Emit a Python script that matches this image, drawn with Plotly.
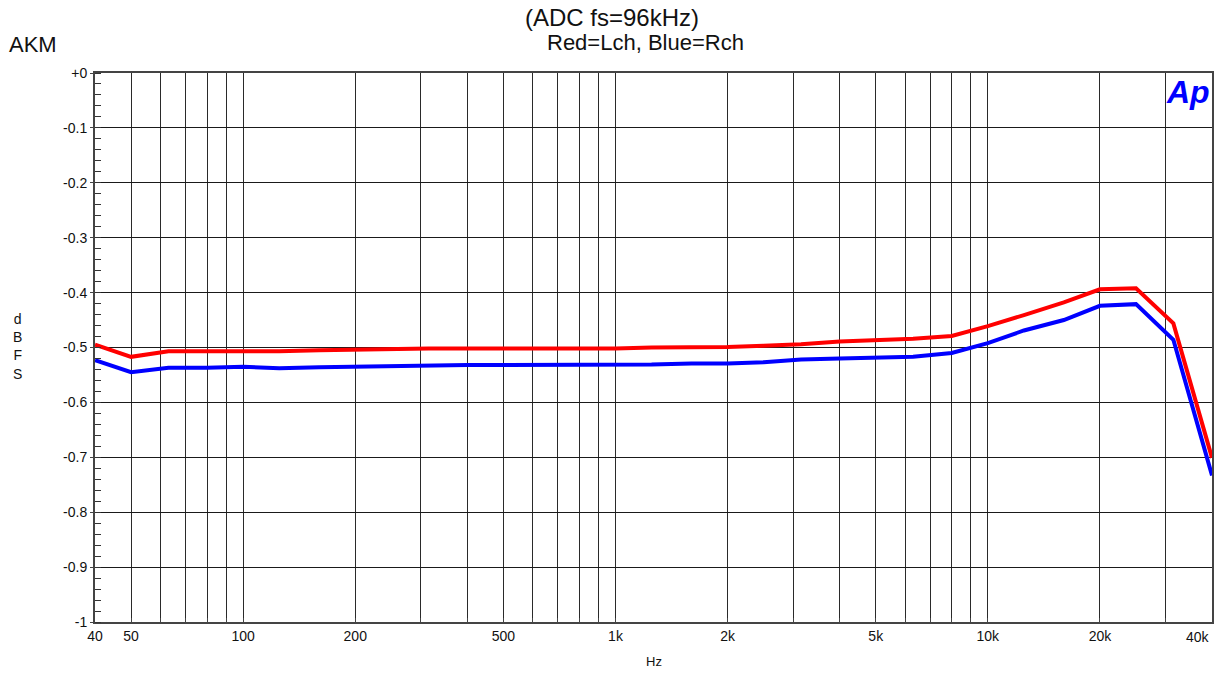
import plotly.graph_objects as go

freq_hz = [40, 50, 63, 80, 100, 125, 160, 200, 250, 315, 400, 500, 630, 800,
           1000, 1250, 1600, 2000, 2500, 3150, 4000, 5000, 6300, 8000,
           10000, 12500, 16000, 20000, 25000, 31500, 40000]

lch_dbfs = [-0.495, -0.517, -0.507, -0.507, -0.507, -0.507, -0.505, -0.504, -0.502,
            -0.502, -0.502, -0.502, -0.502, -0.502, -0.502, -0.500, -0.500, -0.499,
            -0.497, -0.494, -0.489, -0.487, -0.484, -0.479, -0.461, -0.441, -0.418,
            -0.394, -0.392, -0.456, -0.701]

rch_dbfs = [-0.523, -0.545, -0.537, -0.537, -0.535, -0.538, -0.536, -0.535, -0.533,
            -0.533, -0.532, -0.532, -0.532, -0.531, -0.531, -0.531, -0.529, -0.529,
            -0.527, -0.522, -0.520, -0.518, -0.517, -0.510, -0.492, -0.469, -0.450,
            -0.424, -0.421, -0.486, -0.733]

x_tick_vals = [40, 50, 100, 200, 500, 1000, 2000, 5000, 10000, 20000, 40000]
x_tick_text = ["40", "50", "100", "200", "500", "1k", "2k", "5k", "10k", "20k", "40k"]
x_grid_vals = [m * d for d in (10, 100, 1000, 10000) for m in range(1, 10)
               if 40 < m * d < 40000]

y_tick_vals = [0, -0.1, -0.2, -0.3, -0.4, -0.5, -0.6, -0.7, -0.8, -0.9, -1]
y_tick_text = ["+0", "-0.1", "-0.2", "-0.3", "-0.4", "-0.5", "-0.6", "-0.7",
               "-0.8", "-0.9", "-1"]

FONT = "Liberation Sans, Arial, sans-serif"
W, H = 1225, 676
# plot area in page pixels: x 95..1212, y 73..622
L, T = 95, 73
R, B = W - 1212, H - 622
PW, PH = W - L - R, H - T - B


def px(x):
    return (x - L) / PW


def py(y):
    return (H - B - y) / PH


# the last x label sits left-aligned against the right frame, as in the original
shown_tick_text = x_tick_text[:-1] + [""]

fig = go.Figure()
fig.add_trace(go.Scatter(x=freq_hz, y=lch_dbfs, mode="lines",
                         line=dict(color="#ff0000", width=4), name="Lch"))
fig.add_trace(go.Scatter(x=freq_hz, y=rch_dbfs, mode="lines",
                         line=dict(color="#0000ff", width=4), name="Rch"))

fig.update_xaxes(
    type="log", range=[1.60206, 4.60206], automargin=False,
    tickmode="array", tickvals=x_tick_vals, ticktext=shown_tick_text,
    showgrid=True, gridcolor="#2a2a2a", gridwidth=1,
    ticks="", tickfont=dict(size=14, color="#111", family=FONT),
    showline=True, linecolor="#444", linewidth=2, mirror=True,
    zeroline=False,
    minor=dict(tickmode="array", tickvals=x_grid_vals, showgrid=True,
               gridcolor="#2a2a2a", gridwidth=1, ticks="inside", ticklen=4,
               tickcolor="#444"),
)
fig.update_yaxes(
    range=[-1, 0], automargin=False,
    tickmode="array", tickvals=y_tick_vals, ticktext=y_tick_text,
    showgrid=True, gridcolor="#1a1a1a", gridwidth=1,
    ticks="outside", ticklen=3, tickcolor="#444",
    tickfont=dict(size=14, color="#111", family=FONT),
    showline=True, linecolor="#444", linewidth=2, mirror=True,
    zeroline=False,
    minor=dict(dtick=0.02, tick0=0, ticks="inside", ticklen=6, tickcolor="#333",
               showgrid=False),
)

fig.update_layout(
    width=W, height=H,
    margin=dict(l=L, r=R, t=T, b=B, pad=0),
    paper_bgcolor="white", plot_bgcolor="white",
    showlegend=False,
    font=dict(family=FONT, color="#111"),
    annotations=[
        dict(text="(ADC fs=96kHz)", xref="paper", yref="paper", x=px(612), y=py(18),
             xanchor="center", yanchor="middle", showarrow=False,
             font=dict(size=24, color="#111", family=FONT)),
        dict(text="Red=Lch, Blue=Rch", xref="paper", yref="paper", x=px(645), y=py(43),
             xanchor="center", yanchor="middle", showarrow=False,
             font=dict(size=22, color="#111", family=FONT)),
        dict(text="AKM", xref="paper", yref="paper", x=px(33), y=py(44),
             xanchor="center", yanchor="middle", showarrow=False,
             font=dict(size=22, color="#111", family=FONT)),
        dict(text="d<br>B<br>F<br>S", xref="paper", yref="paper", x=px(17), y=py(346),
             xanchor="center", yanchor="middle", showarrow=False,
             font=dict(size=14, color="#111", family=FONT)),
        dict(text="Hz", xref="paper", yref="paper", x=px(654), y=py(661),
             xanchor="center", yanchor="middle", showarrow=False,
             font=dict(size=13, color="#111", family=FONT)),
        dict(text=x_tick_text[-1], xref="paper", yref="paper", x=1.0, y=py(637),
             xanchor="right", yanchor="middle", showarrow=False,
             font=dict(size=14, color="#111", family=FONT)),
        dict(text="<b><i>Ap</i></b>", xref="paper", yref="paper", x=px(1188), y=py(92),
             xanchor="center", yanchor="middle", showarrow=False,
             font=dict(size=32, color="#0000ff", family=FONT)),
    ],
)

fig.write_html("out.html", config={"displayModeBar": False},
               post_script="document.body.style.margin='0';")
